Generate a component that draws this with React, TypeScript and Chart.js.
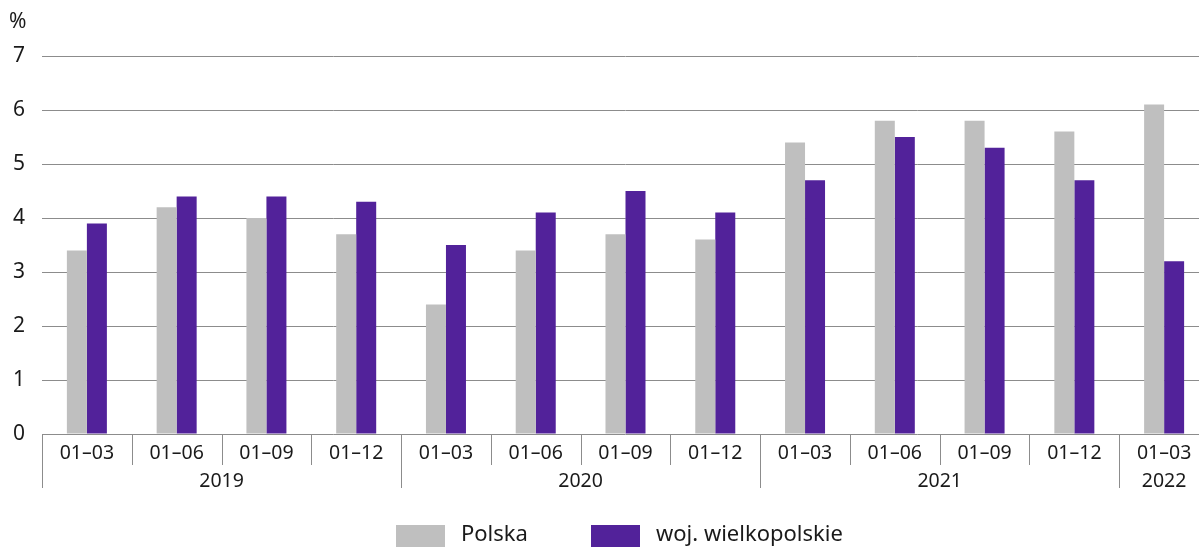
import React, { useEffect, useRef } from "react";
import { Chart, registerables } from "chart.js";

Chart.register(...registerables);

const categories = [
  "01–03", "01–06", "01–09", "01–12",
  "01–03", "01–06", "01–09", "01–12",
  "01–03", "01–06", "01–09", "01–12",
  "01–03",
];
const yearOfCategory = [
  "2019", "2019", "2019", "2019",
  "2020", "2020", "2020", "2020",
  "2021", "2021", "2021", "2021",
  "2022",
];
const polska = [3.4, 4.2, 4.0, 3.7, 2.4, 3.4, 3.7, 3.6, 5.4, 5.8, 5.8, 5.6, 6.1];
const wielkopolskie = [3.9, 4.4, 4.4, 4.3, 3.5, 4.1, 4.5, 4.1, 4.7, 5.5, 5.3, 4.7, 3.2];
const yTicks = [0, 1, 2, 3, 4, 5, 6, 7];
const seriesNames = ["Polska", "woj. wielkopolskie"];
const unitLabel = "%";

const GRAY = "#bfbfbf";
const PURPLE = "#52229a";
const LINE = "#8c8c8c";
const TEXT = "#1a1a1a";
const FONT = "'Noto Sans', sans-serif";

const customPlugin = {
  id: "custom",
  afterDraw(chart: any) {
    const ctx = chart.ctx;
    const x = chart.scales.x;
    const area = chart.chartArea;
    const n = categories.length;
    const step = n > 1 ? x.getPixelForValue(1) - x.getPixelForValue(0) : area.right - area.left;
    ctx.save();
    // unit
    ctx.fillStyle = TEXT;
    ctx.font = `21px ${FONT}`;
    ctx.textAlign = "left";
    ctx.textBaseline = "middle";
    ctx.fillText(unitLabel, 9, 22);

    // category labels and separators
    ctx.strokeStyle = LINE;
    ctx.lineWidth = 1;
    ctx.textAlign = "center";
    ctx.font = `19.5px ${FONT}`;
    for (let i = 0; i < n; i++) {
      const c = x.getPixelForValue(i);
      const left = Math.round(c - step / 2) + 0.5;
      const newYear = i === 0 || yearOfCategory[i] !== yearOfCategory[i - 1];
      ctx.beginPath();
      ctx.moveTo(left, area.bottom);
      ctx.lineTo(left, area.bottom + (newYear ? 54 : 31));
      ctx.stroke();
      ctx.fillText(categories[i], c, area.bottom + 19);
    }
    // year labels
    let start = 0;
    for (let i = 1; i <= n; i++) {
      if (i === n || yearOfCategory[i] !== yearOfCategory[start]) {
        const l = x.getPixelForValue(start) - step / 2;
        const r = x.getPixelForValue(i - 1) + step / 2;
        let cx = (l + r) / 2;
        if (i === n && i - start === 1) cx = x.getPixelForValue(start);
        ctx.fillText(yearOfCategory[start], cx, area.bottom + 47);
        start = i;
      }
    }

    // legend
    const colors = [GRAY, PURPLE];
    const boxX = [396, 591];
    ctx.font = `22px ${FONT}`;
    ctx.textAlign = "left";
    for (let k = 0; k < seriesNames.length; k++) {
      ctx.fillStyle = colors[k];
      ctx.fillRect(boxX[k], 525, 49, 22);
      ctx.fillStyle = TEXT;
      ctx.fillText(seriesNames[k], boxX[k] + 65, 535);
    }
    ctx.restore();
  },
};

export default function App() {
  const ref = useRef<HTMLCanvasElement>(null);
  useEffect(() => {
    document.body.style.margin = "0";
    const chart = new Chart(ref.current!, {
      type: "bar",
      data: {
        labels: categories,
        datasets: [
          { label: seriesNames[0], data: polska, backgroundColor: GRAY },
          { label: seriesNames[1], data: wielkopolskie, backgroundColor: PURPLE },
        ],
      },
      options: {
        animation: false,
        responsive: true,
        maintainAspectRatio: false,
        datasets: { bar: { categoryPercentage: 40 / 89.75, barPercentage: 1 } },
        layout: { padding: { top: 56, bottom: 113, left: 0, right: 0 } },
        plugins: { legend: { display: false }, tooltip: { enabled: false } },
        scales: {
          x: { display: false },
          y: {
            min: 0,
            max: 7,
            afterBuildTicks(scale: any) {
              scale.ticks = yTicks.map((v) => ({ value: v }));
            },
            afterFit(scale: any) {
              scale.width = 42;
            },
            border: { display: false },
            grid: { color: LINE, drawTicks: false, lineWidth: 1 },
            ticks: {
              color: TEXT,
              font: { family: "'Noto Sans', sans-serif", size: 21 },
              padding: 17,
            },
          },
        },
      },
      plugins: [customPlugin],
    });
    return () => chart.destroy();
  }, []);
  return (
    <div style={{ position: "absolute", left: 0, top: 0, width: 1199, height: 547, overflow: "hidden" }}>
      <div style={{ position: "relative", width: 1209, height: 547 }}>
        <canvas ref={ref} />
      </div>
    </div>
  );
}
